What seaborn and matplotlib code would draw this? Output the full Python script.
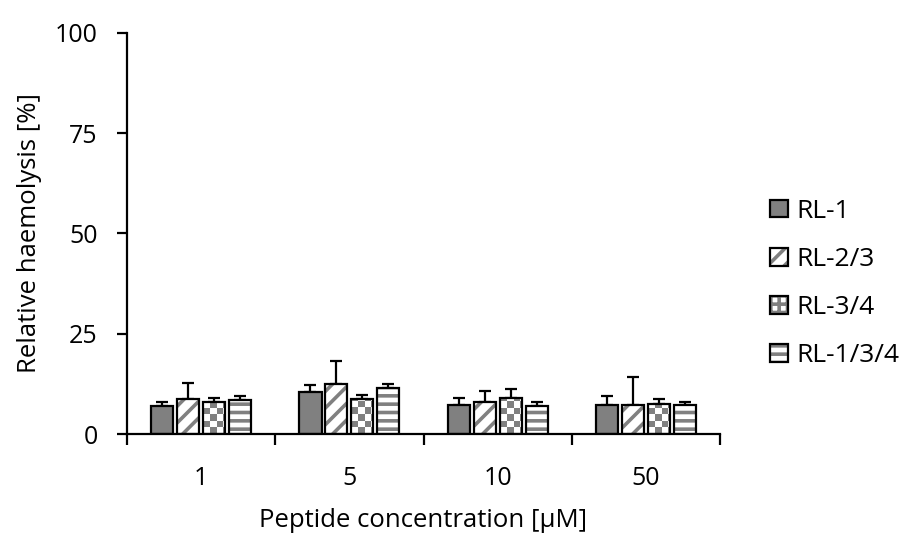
import numpy as np
import pandas as pd
import matplotlib
matplotlib.use("Agg")
import matplotlib.pyplot as plt
from matplotlib.patches import Rectangle, Patch
from matplotlib.legend_handler import HandlerTuple
import seaborn as sns

concentrations = ["1", "5", "10", "50"]
peptides = ["RL-1", "RL-2/3", "RL-3/4", "RL-1/3/4"]
rl1 = [6.9, 10.4, 7.2, 7.2]
rl23 = [8.7, 12.4, 7.9, 7.2]
rl34 = [8.1, 8.8, 9.1, 7.6]
rl134 = [8.5, 11.4, 6.9, 7.2]
err_rl1 = [1.0, 1.9, 1.9, 2.3]
err_rl23 = [3.9, 5.9, 2.7, 7.0]
err_rl34 = [1.0, 0.9, 2.0, 1.2]
err_rl134 = [0.9, 1.0, 1.0, 0.9]

values = [rl1, rl23, rl34, rl134]
errors = [err_rl1, err_rl23, err_rl34, err_rl134]

rows = []
for p, vals, errs in zip(peptides, values, errors):
    for c, v, e in zip(concentrations, vals, errs):
        rows.append({"conc": c, "peptide": p, "value": v, "err": e})
df = pd.DataFrame(rows)

sns.set_theme(style="white")
plt.rcParams["font.family"] = ["Open Sans", "DejaVu Sans"]
plt.rcParams["hatch.linewidth"] = 2.6
plt.rcParams["text.color"] = "black"
plt.rcParams["axes.labelcolor"] = "black"
plt.rcParams["xtick.color"] = "black"
plt.rcParams["ytick.color"] = "black"

FS_TICK = 18
FS_LABEL = 18.5
FS_LEG = 19
fig = plt.figure(figsize=(9.08, 5.38), dpi=100)
ax = fig.add_axes([0.1399, 0.1933, 0.6531, 0.7454])

sns.barplot(data=df, x="conc", y="value", hue="peptide", order=concentrations,
            hue_order=peptides, width=0.7, gap=0.15, errorbar=None, ax=ax,
            legend=False)

ax.set_ylim(0, 100)
ax.set_xlim(-0.5, 3.5)

gray = "#808080"
hatches = [None, "//", "check", "--"]
cell_px = 6.5
legend_handles = []
for i, (cont, h) in enumerate(zip(ax.containers, hatches)):
    for j, bar in enumerate(cont.patches):
        x, y = bar.get_x(), bar.get_y()
        w, hgt = bar.get_width(), bar.get_height()
        z = bar.get_zorder()
        bar.set_linewidth(0)
        if h is None:
            bar.set_facecolor(gray)
            bar.set_edgecolor(gray)
        elif h == "check":
            bar.set_facecolor("white")
            bar.set_edgecolor("white")
            p0 = ax.transData.transform((x, y))
            p1 = ax.transData.transform((x + w, y + hgt))
            dx_per_px = w / (p1[0] - p0[0])
            dy_per_px = hgt / (p1[1] - p0[1])
            nx = int(np.ceil((p1[0] - p0[0]) / cell_px))
            ny = int(np.ceil((p1[1] - p0[1]) / cell_px))
            board = (np.add.outer(np.arange(ny), np.arange(nx)) % 2).astype(float)
            im = ax.imshow(board, cmap=matplotlib.colors.ListedColormap(["white", gray]),
                           origin="lower", aspect="auto", interpolation="nearest",
                           extent=(x, x + nx * cell_px * dx_per_px,
                                   y, y + ny * cell_px * dy_per_px),
                           zorder=z + 0.05)
            im.set_clip_path(bar)
        else:
            bar.set_facecolor("white")
            bar.set_edgecolor(gray)
            bar.set_hatch(h)
        ax.add_patch(Rectangle((x, y), w, hgt, fill=False, edgecolor="black",
                               linewidth=1.6, zorder=z + 0.1))
        ax.errorbar(x + w / 2, hgt, yerr=[[0], [errors[i][j]]], fmt="none",
                    ecolor="black", elinewidth=1.6, capsize=4, capthick=1.6,
                    zorder=z - 0.1)
    outline = Patch(fill=False, edgecolor="black", linewidth=1.6)
    if h is None:
        fillp = Patch(facecolor=gray, edgecolor=gray, linewidth=0)
    elif h == "check":
        fillp = Patch(facecolor="white", edgecolor=gray, linewidth=0, hatch="++")
    else:
        fillp = Patch(facecolor="white", edgecolor=gray, linewidth=0, hatch=h)
    legend_handles.append((fillp, outline))

ax.set_ylim(0, 100)
ax.set_xlim(-0.5, 3.5)
ax.set_yticks([0, 25, 50, 75, 100])
ax.set_xticks([-0.5, 0.5, 1.5, 2.5, 3.5])
ax.set_xticklabels([])
ax.set_xticks(range(len(concentrations)), minor=True)
ax.set_xticklabels(concentrations, minor=True)
ax.tick_params(axis="x", which="major", direction="out", length=8, width=1.6,
               color="black", bottom=True)
ax.tick_params(axis="x", which="minor", length=0, pad=23, labelsize=FS_TICK)
ax.tick_params(axis="y", direction="out", length=7, width=1.6, color="black",
               left=True, labelsize=FS_TICK, pad=14)
for s in ["top", "right"]:
    ax.spines[s].set_visible(False)
for s in ["left", "bottom"]:
    ax.spines[s].set_color("black")
    ax.spines[s].set_linewidth(1.6)

ax.set_ylabel("Relative haemolysis [%]", fontsize=FS_LABEL, labelpad=9)
ax.set_xlabel("Peptide concentration [µM]", fontsize=FS_LABEL, labelpad=12)

ax.legend(handles=legend_handles, labels=peptides, loc="center left",
          bbox_to_anchor=(1.045, 0.375), frameon=False, fontsize=FS_LEG,
          handlelength=0.65, handleheight=0.65, handletextpad=0.35,
          labelspacing=0.88, handler_map={tuple: HandlerTuple(ndivide=1)})

fig.savefig("out.png", dpi=100)
